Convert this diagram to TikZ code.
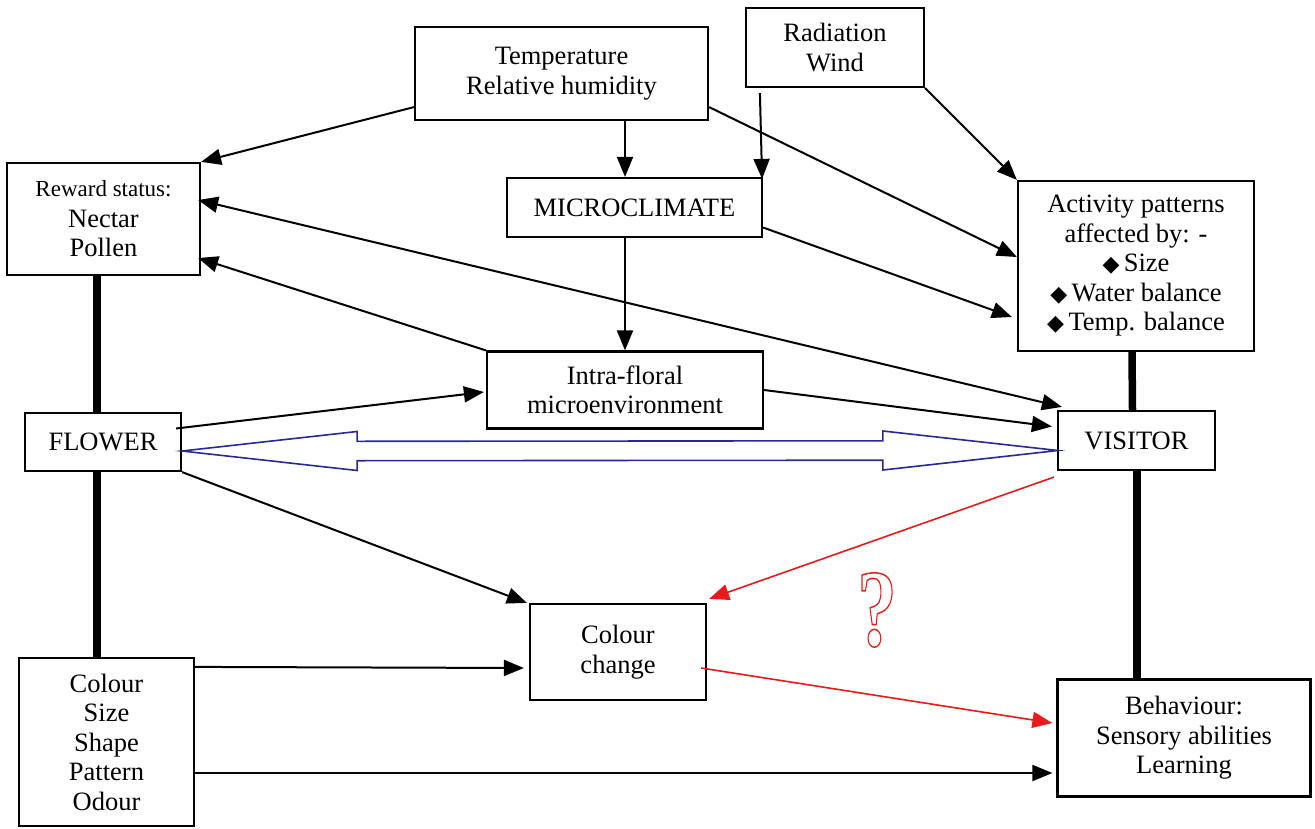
\documentclass[tikz,border=0pt]{standalone}
\usepackage{fontspec}
\usepackage{graphicx}
\setmainfont{Liberation Serif}
\newfontfamily\symfont{DejaVu Sans}
\usetikzlibrary{arrows.meta}
\definecolor{navyline}{RGB}{40,40,150}
\definecolor{redline}{RGB}{235,25,25}
\newcommand{\dia}{{\symfont\fontsize{22}{22}\selectfont ◆}\,}
\begin{document}
\begin{tikzpicture}[x=1pt,y=-1pt,
  box/.style={draw, line width=2.2pt, align=center, inner sep=0pt, font=\fontsize{26.5}{29.5}\selectfont},
  arr/.style={line width=2pt, -{Triangle[length=20pt,width=16pt]}},
  arrboth/.style={line width=2pt, {Triangle[length=20pt,width=16pt]}-{Triangle[length=20pt,width=16pt]}},
  redarr/.style={draw=redline, line width=1.6pt, -{Triangle[length=20pt,width=16pt]}, fill=redline},
  thickline/.style={line width=7.5pt},
  bluearrow/.style={draw=navyline, line width=1.6pt, line join=miter}]
\useasboundingbox (0,0) rectangle (1315,828);

\node[box, minimum width=293pt, minimum height=93pt] (temp) at (561.5,73.5) {Temperature\\Relative humidity};
\node[box, minimum width=178pt, minimum height=79pt] (rad) at (835,47.5) {Radiation\\Wind};
\node[box, minimum width=193pt, minimum height=112pt] (reward) at (103.5,219) {{\fontsize{23}{27}\selectfont Reward status:}\\[1pt]Nectar\\Pollen};
\node[box, minimum width=255pt, minimum height=59pt] (micro) at (634.5,207.5) {MICROCLIMATE};
\node[box, minimum width=236pt, minimum height=170pt] (act) at (1136,266) {Activity patterns\\affected by: -\\\dia Size\\\dia Water balance\\\dia Temp. balance};
\node[box, minimum width=276pt, minimum height=77pt] (intra) at (625,390) {Intra-floral\\microenvironment};
\node[box, minimum width=156pt, minimum height=58pt] (flower) at (103,442) {FLOWER};
\node[box, minimum width=157pt, minimum height=59pt] (visitor) at (1136.5,440.5) {VISITOR};
\node[box, minimum width=176pt, minimum height=96pt] (cchange) at (618,652) {Colour\\change};
\node[box, minimum width=175pt, minimum height=168pt] (attrs) at (106.5,742) {Colour\\Size\\Shape\\Pattern\\Odour};
\node[box, minimum width=253pt, minimum height=117pt] (behav) at (1184,738) {Behaviour:\\Sensory abilities\\Learning};

\node[text=redline, inner sep=0pt] (qm) at (877,610) {\scalebox{0.72}[1]{\special{pdf:literal direct 1 Tr 1.5 w}\fontsize{110}{110}\selectfont\bfseries ?\special{pdf:literal direct 0 Tr}}};

% thick links
\draw[thickline] ([xshift=-6.5pt]reward.south) -- ([xshift=-6pt]flower.north);
\draw[thickline] ([xshift=-6pt]flower.south) -- ([xshift=-9.5pt]attrs.north);
\draw[thickline] ([xshift=-4pt]act.south) -- ([xshift=-4pt]visitor.north);
\draw[thickline] ([xshift=0.5pt]visitor.south) -- ([xshift=-47pt]behav.north);

% black arrows
\draw[arr] ([yshift=14pt]temp.south west) -- (reward.north east);
\draw[arr] (temp.south -| intra.north) -- (micro.north -| intra.north);
\draw[arr] ([yshift=14pt]temp.south east) -- ([yshift=9pt]act.west);
\draw[arr] ([xshift=15pt,yshift=-5pt]rad.south west) -- ([xshift=-1pt,yshift=-2pt]micro.north east);
\draw[arr] (rad.south east) -- (act.north west);
\draw[arr] ([yshift=-20pt]micro.east) -- ([xshift=-5pt,yshift=-51pt]act.west);
\draw[arr] (micro.south -| intra.north) -- (intra.north);
\draw[arr] (intra.north west) -- ([xshift=-3pt,yshift=-39pt]reward.east);
\draw[arrboth] ([xshift=-3pt,yshift=19pt]reward.east) -- ([xshift=5pt,yshift=3pt]visitor.north west);
\draw[arr] ([xshift=-6pt,yshift=13.5pt]flower.east) -- ([xshift=-2pt,yshift=-2pt]intra.west);
\draw[arr] (intra.east) -- ([xshift=-5pt,yshift=14pt]visitor.west);
\draw[arr] (flower.south east) -- ([xshift=-2pt]cchange.north west);
\draw[arr] ([yshift=-10pt]attrs.north east) -- ([xshift=-5pt,yshift=-16pt]cchange.west);
\draw[arr] ([yshift=-31pt]attrs.east) -- ([xshift=-4pt,yshift=-35pt]behav.west);

% red arrows
\draw[redarr] ([xshift=-3pt,yshift=-6pt]visitor.south west) -- ([xshift=2pt,yshift=4pt]cchange.north east);
\draw[redarr] ([xshift=-6pt,yshift=-16pt]cchange.east) -- ([xshift=-4pt,yshift=15pt]behav.west);

% blue double hollow arrow
\coordinate (bl) at ([yshift=-9pt]flower.east);
\coordinate (br) at ([xshift=1pt,yshift=-10pt]visitor.west);
\draw[bluearrow] (bl) -- ([xshift=175pt,yshift=19.5pt]bl) -- ([xshift=175pt,yshift=9.7pt]bl)
  -- ([xshift=-175pt,yshift=9.7pt]br) -- ([xshift=-175pt,yshift=19.5pt]br) -- (br)
  -- ([xshift=-175pt,yshift=-19.5pt]br) -- ([xshift=-175pt,yshift=-9.7pt]br)
  -- ([xshift=175pt,yshift=-9.7pt]bl) -- ([xshift=175pt,yshift=-19.5pt]bl) -- cycle;
\end{tikzpicture}
\end{document}
